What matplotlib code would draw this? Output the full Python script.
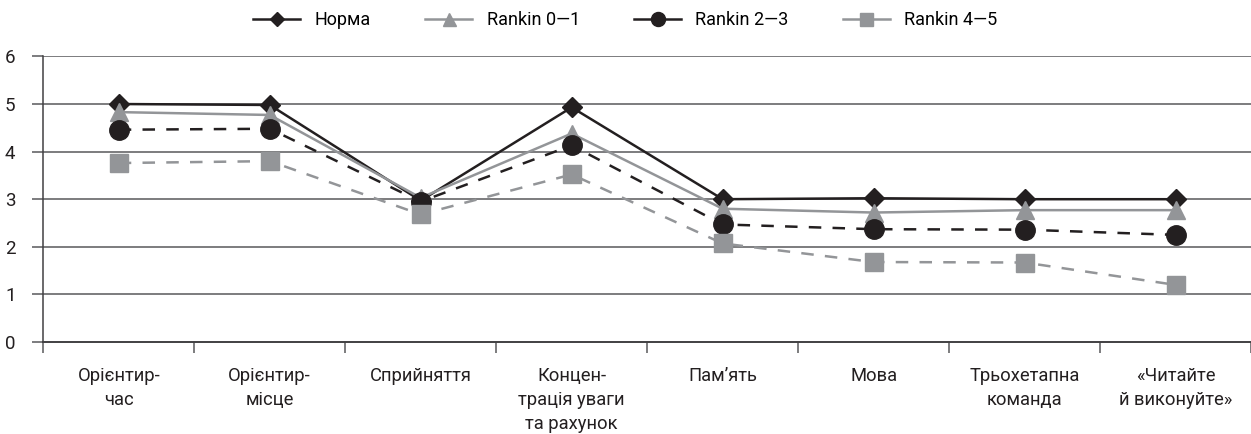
import matplotlib
matplotlib.use("Agg")
import matplotlib.pyplot as plt
from matplotlib.lines import Line2D
import numpy as np

plt.rcParams['font.family'] = ['Roboto', 'DejaVu Sans']

categories = ["Орієнтир-\nчас", "Орієнтир-\nмісце", "Сприйняття",
              "Концен-\nтрація уваги\nта рахунок", "Пам’ять", "Мова",
              "Трьохетапна\nкоманда", "«Читайте\nй виконуйте»"]
norma = [5.0, 4.98, 2.97, 4.93, 3.0, 3.02, 3.0, 3.0]
rankin_01 = [4.83, 4.77, 3.03, 4.38, 2.8, 2.72, 2.77, 2.77]
rankin_23 = [4.46, 4.48, 2.95, 4.13, 2.47, 2.37, 2.36, 2.25]
rankin_45 = [3.76, 3.8, 2.68, 3.52, 2.07, 1.68, 1.67, 1.2]
series_names = ["Норма", "Rankin 0—1", "Rankin 2—3", "Rankin 4—5"]
y_ticks = [0, 1, 2, 3, 4, 5, 6]

BLACK = "#231f20"
GRAY = "#939598"

fig = plt.figure(figsize=(12.51, 4.34), dpi=100)
ax = fig.add_axes([0.0346, 0.212, 0.9654, 0.658])

x = np.arange(len(categories))

for yv in y_ticks[1:]:
    ax.axhline(yv, color="#58595b", lw=1.1, zorder=1)

styles = [
    dict(data=norma, color=BLACK, ls="-", marker="D", ms=10, lw=1.8),
    dict(data=rankin_01, color=GRAY, ls="-", marker="^", ms=13, lw=1.8),
    dict(data=rankin_23, color=BLACK, ls=(0, (5, 4.5)), marker="o", ms=14, lw=1.8),
    dict(data=rankin_45, color=GRAY, ls=(0, (5, 4.5)), marker="s", ms=13, lw=1.8),
]
for st in styles:
    ax.plot(x, st["data"], color=st["color"], linestyle=st["ls"], lw=st["lw"],
            marker=st["marker"], markersize=st["ms"], markerfacecolor=st["color"],
            markeredgecolor=st["color"], zorder=3)

ax.set_xlim(-0.5, len(categories) - 0.5)
ax.set_ylim(0, 6)
ax.set_yticks(y_ticks)
ax.set_yticklabels([str(v) for v in y_ticks], fontsize=13.5, color=BLACK)
ax.tick_params(axis="y", direction="out", length=8, width=1.1, color="#58595b", pad=12)

ax.set_xticks(np.arange(-0.5, len(categories)), minor=False)
ax.set_xticklabels([])
ax.tick_params(axis="x", which="major", direction="out", length=8, width=1.1, color="#58595b")
ax.set_xticks(x, minor=True)
ax.set_xticklabels(categories, minor=True, fontsize=13.2, color=BLACK, linespacing=1.42, va="top")
ax.tick_params(axis="x", which="minor", length=0, pad=18)

for s in ["top", "right"]:
    ax.spines[s].set_visible(False)
ax.spines["left"].set_color("#414042")
ax.spines["left"].set_linewidth(1.1)
ax.spines["bottom"].set_color("#414042")
ax.spines["bottom"].set_linewidth(1.4)

handles = []
for st, name in zip(styles, series_names):
    handles.append(Line2D([0], [0], color=st["color"], linestyle="-", lw=1.8,
                          marker=st["marker"], markersize=st["ms"] * 0.72,
                          markerfacecolor=st["color"], markeredgecolor=st["color"],
                          label=name))
fig.legend(handles=handles, loc="center", bbox_to_anchor=(0.5, 0.953), ncol=4,
           frameon=False, fontsize=13, handlelength=2.6, columnspacing=3.0,
           handletextpad=0.8)

fig.savefig("out.png", dpi=100)
